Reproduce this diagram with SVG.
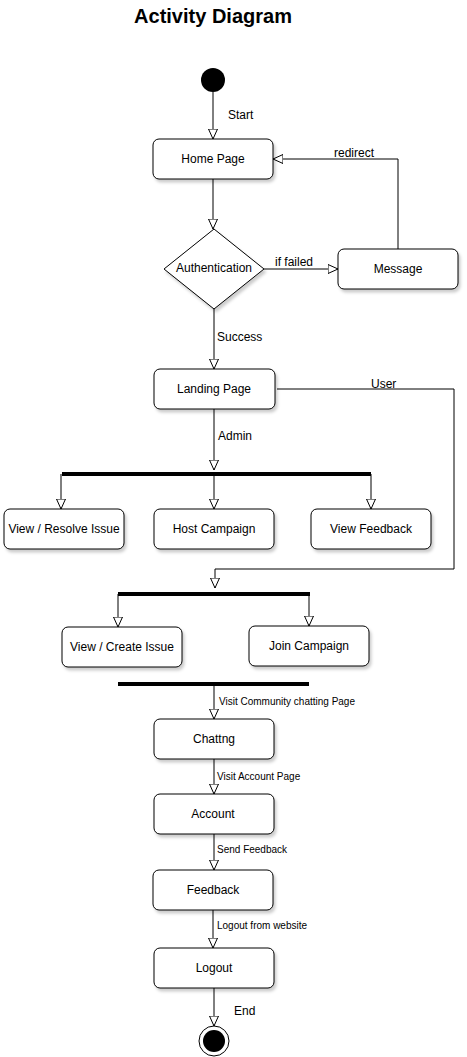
<svg xmlns="http://www.w3.org/2000/svg" width="467" height="1057" viewBox="0 0 467 1057">
<style>
text{font-family:"Liberation Sans",Arial,sans-serif;fill:#000}
.t{font-size:12px;text-anchor:middle;dominant-baseline:central}
.l{font-size:12px}
.s{font-size:10px}
.box{fill:#fff;stroke:#000;stroke-width:1;filter:url(#sh)}
.e{fill:none;stroke:#000;stroke-width:1;marker-end:url(#ar)}
.bar{stroke:#000;stroke-width:4}
</style>
<defs>
<filter id="sh" x="-10%" y="-20%" width="130%" height="150%">
<feDropShadow dx="2" dy="3" stdDeviation="1.5" flood-color="#000" flood-opacity="0.2"/>
</filter>
<marker id="ar" viewBox="0 0 10 10" refX="10" refY="5" markerWidth="10" markerHeight="10" markerUnits="userSpaceOnUse" orient="auto">
<path d="M0,0.5 L10,5 L0,9.5 Z" fill="#fff" stroke="#000" stroke-width="1"/>
</marker>
</defs>
<rect width="467" height="1057" fill="#fff"/>
<text x="213" y="23" style="font-size:20px;font-weight:bold;text-anchor:middle">Activity Diagram</text>

<g id="connectors">
<line class="e" x1="213" y1="92" x2="213" y2="139"/>
<line class="e" x1="213" y1="179" x2="213" y2="229"/>
<line class="e" x1="264" y1="269" x2="338" y2="269"/>
<polyline class="e" points="398,249 398,159 273,159"/>
<line class="e" x1="214" y1="309" x2="214" y2="369"/>
<polyline class="e" points="277,389 454,389 454,569 215,569 215,588"/>
<line class="e" x1="214" y1="409" x2="214" y2="470"/>
<line class="e" x1="61" y1="474" x2="61" y2="509"/>
<line class="e" x1="214" y1="474" x2="214" y2="509"/>
<line class="e" x1="371" y1="474" x2="371" y2="509"/>
<line class="e" x1="118" y1="594" x2="118" y2="627"/>
<line class="e" x1="309" y1="594" x2="309" y2="626"/>
<line class="e" x1="214" y1="684" x2="214" y2="719"/>
<line class="e" x1="214" y1="759" x2="214" y2="794"/>
<line class="e" x1="214" y1="834" x2="214" y2="870"/>
<line class="e" x1="213" y1="910" x2="213" y2="948"/>
<line class="e" x1="214" y1="988" x2="214" y2="1026"/>
<text class="l" x="228" y="119">Start</text>
<text class="l" x="334" y="157">redirect</text>
<text class="l" x="275" y="266">if failed</text>
<text class="l" x="217" y="341">Success</text>
<text class="l" x="371" y="388">User</text>
<text class="l" x="218" y="440">Admin</text>
<text class="s" x="219" y="705">Visit Community chatting Page</text>
<text class="s" x="217" y="780">Visit Account Page</text>
<text class="s" x="217" y="853">Send Feedback</text>
<text class="s" x="217" y="929">Logout from website</text>
<text class="l" x="234" y="1015">End</text>
</g>

<g id="start"><circle cx="213" cy="80" r="12" fill="#000"/></g>
<g id="home"><rect class="box" x="153" y="139" width="120" height="40" rx="6"/><text class="t" x="213" y="159">Home Page</text></g>
<g id="auth"><polygon points="214,229 264,269 214,309 164,269" fill="#fff" stroke="#000" filter="url(#sh)"/><text class="t" x="214" y="268">Authentication</text></g>
<g id="message"><rect class="box" x="338" y="249" width="120" height="40" rx="6"/><text class="t" x="398" y="269">Message</text></g>
<g id="landing"><rect class="box" x="154" y="369" width="121" height="40" rx="6"/><text class="t" x="214" y="389">Landing Page</text></g>
<g id="fork1"><line class="bar" x1="62" y1="474" x2="371" y2="474"/></g>
<g id="resolve"><rect class="box" x="4" y="509" width="120" height="40" rx="6"/><text class="t" x="64" y="529">View / Resolve Issue</text></g>
<g id="host"><rect class="box" x="154" y="509" width="120" height="40" rx="6"/><text class="t" x="214" y="529">Host Campaign</text></g>
<g id="viewfb"><rect class="box" x="311" y="509" width="120" height="40" rx="6"/><text class="t" x="371" y="529">View Feedback</text></g>
<g id="fork2"><line class="bar" x1="118" y1="594" x2="310" y2="594"/></g>
<g id="create"><rect class="box" x="62" y="627" width="120" height="40" rx="6"/><text class="t" x="122" y="647">View / Create Issue</text></g>
<g id="join"><rect class="box" x="249" y="626" width="120" height="40" rx="6"/><text class="t" x="309" y="646">Join Campaign</text></g>
<g id="join3"><line class="bar" x1="118" y1="684" x2="309" y2="684"/></g>
<g id="chat"><rect class="box" x="154" y="719" width="120" height="40" rx="6"/><text class="t" x="214" y="739">Chattng</text></g>
<g id="account"><rect class="box" x="154" y="794" width="120" height="40" rx="6"/><text class="t" x="213" y="814">Account</text></g>
<g id="feedback"><rect class="box" x="153" y="870" width="120" height="40" rx="6"/><text class="t" x="213" y="890">Feedback</text></g>
<g id="logout"><rect class="box" x="154" y="948" width="120" height="40" rx="6"/><text class="t" x="214" y="968">Logout</text></g>
<g id="end"><circle cx="214" cy="1041" r="15" fill="#fff" stroke="#000"/><circle cx="214" cy="1041" r="11" fill="#000"/></g>
</svg>
